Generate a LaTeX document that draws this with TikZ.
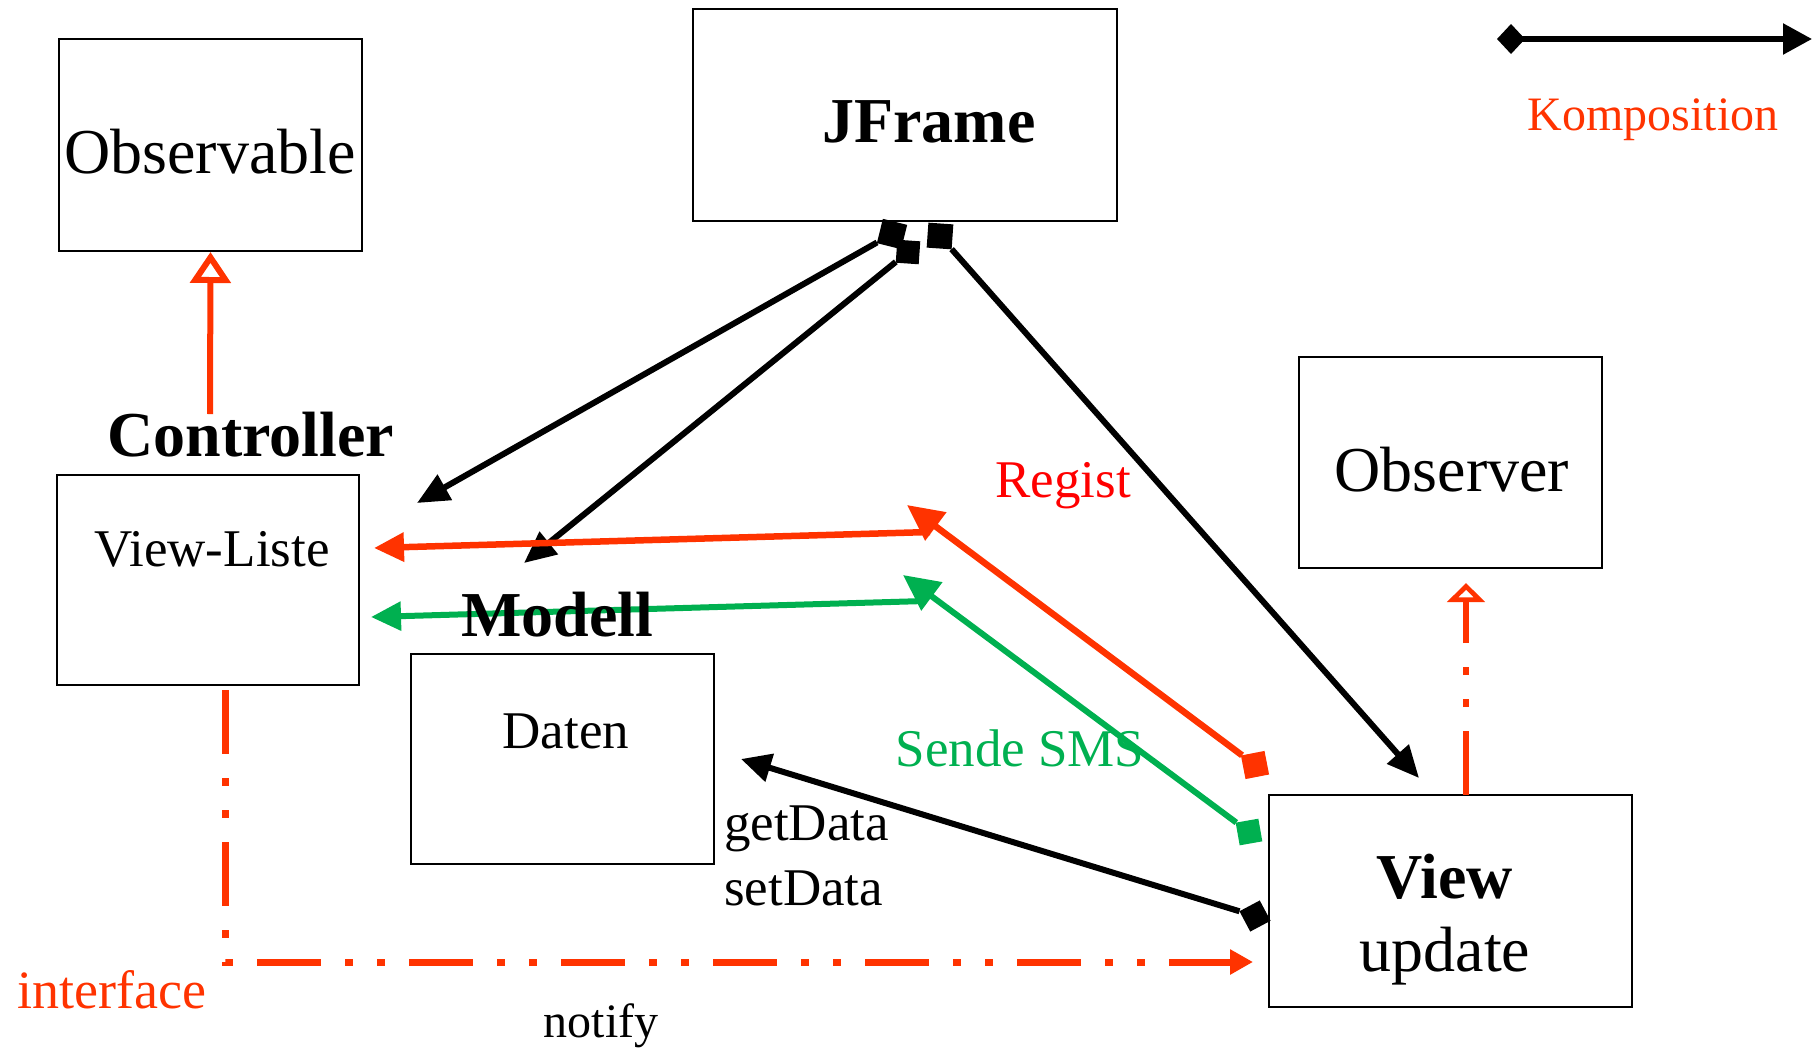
\documentclass[tikz,border=0pt]{standalone}
\usepackage{fontspec}
\setmainfont{Liberation Serif}
\usetikzlibrary{arrows.meta}
\definecolor{ured}{RGB}{255,51,0}
\definecolor{rred}{RGB}{255,0,0}
\definecolor{ugreen}{RGB}{0,176,80}
\begin{document}
\begin{tikzpicture}[x=1pt,y=-1pt,
  box/.style={draw=black, line width=2pt, inner sep=0pt},
  txt/.style={inner sep=0pt, anchor=base},
  big/.style={font=\fontsize{64}{70}\selectfont},
  bigb/.style={font=\fontsize{64}{70}\selectfont\bfseries},
  mid/.style={font=\fontsize{53}{60}\selectfont},
  small/.style={font=\fontsize{48}{54}\selectfont},
  blk/.style={draw=black, line width=6pt},
  sqnode/.style={inner sep=0pt, minimum size=24pt, outer sep=0pt},
  dashdot/.style={dash pattern=on 64pt off 24pt on 8pt off 24pt on 8pt off 24pt}
]
\useasboundingbox (0,0) rectangle (1812,1047);

% boxes
\node[box, minimum width=303pt, minimum height=212pt] (obs) at (210.5,145) {};
\node[box, minimum width=424pt, minimum height=212pt] (jf) at (905,115) {};
\node[box, minimum width=302pt, minimum height=210pt] (ctl) at (208,580) {};
\node[box, minimum width=303pt, minimum height=210pt] (mod) at (562.5,759) {};
\node[box, minimum width=303pt, minimum height=211pt] (obv) at (1450.5,462.5) {};
\node[box, minimum width=363pt, minimum height=212pt] (view) at (1450.5,901) {};

% square ends of the composition/message connectors
\node[sqnode, fill=black, minimum size=25pt, rotate=-14] (sq1) at (892,234) {};
\node[sqnode, fill=black, minimum size=23pt, rotate=-4] (sq2) at (908,252) {};
\node[sqnode, fill=black, minimum size=25pt, rotate=-4] (sq3) at (940,236) {};
\node[sqnode, fill=ured, rotate=11] (sqr) at (1255,765) {};
\node[sqnode, fill=ugreen, minimum size=23pt, rotate=10] (sqg) at (1249,832) {};
\node[sqnode, fill=black, minimum size=23pt, rotate=28] (sqd) at (1255,916) {};

% connector end points
\coordinate (c1) at (417,503);
\coordinate (m1) at (524,563);
\coordinate (v1) at (1419,778);
\coordinate (rt) at (907,505);
\coordinate (rh) at (930,532);
\coordinate (vl1) at (374,548);
\coordinate (gt) at (903,575);
\coordinate (gh) at (925,601);
\coordinate (vl2) at (371,617);
\coordinate (dt) at (741,759);
\coordinate (ifs) at (225,690);
\coordinate (ifc) at (225,962);
\coordinate (ift) at (1253,962);
\coordinate (vtop) at (1466,795);
\coordinate (obt) at (1466,583);
\coordinate (ctop) at (210,414);
\coordinate (lg1) at (1497,39);
\coordinate (lg2) at (1812,39);

% black composition connectors
\draw[blk, -{Triangle[length=32pt,width=28pt]}] (sq1) -- (c1);
\draw[blk, -{Triangle[length=32pt,width=28pt]}] (sq2) -- (m1);
\draw[blk, -{Triangle[length=32pt,width=28pt]}] (sq3) -- (v1);
\draw[blk, -{Triangle[length=30pt,width=28pt]}] (sqd) -- (dt);

% red Regist
\draw[ured, line width=6.5pt, -{Triangle[length=36pt,width=34pt]}] (sqr) -- (rt);
\draw[ured, line width=6.5pt, -{Triangle[length=30pt,width=28pt]}] (rh) -- (vl1);
% green Sende SMS
\draw[ugreen, line width=6pt, -{Triangle[length=36pt,width=34pt]}] (sqg) -- (gt);
\draw[ugreen, line width=6pt, -{Triangle[length=30pt,width=28pt]}] (gh) -- (vl2);

% interface notify
\draw[ured, line width=7pt, dashdot, -{Triangle[length=23pt,width=24pt]}] (ifs) -- (ifc) -- (ift);
% realization Observer
\draw[ured, line width=6pt, dashdot, -{Triangle[open,length=19pt,width=37pt]}] (vtop) -- (obt);
% inheritance Observable
\draw[ured, line width=6pt, -{Triangle[open,length=31pt,width=40pt]}] (ctop) -- (obs.south);

% legend
\draw[black, line width=5.5pt, {Diamond[length=28pt,width=30pt]}-{Triangle[length=29pt,width=30pt]}] (lg1) -- (lg2);

% texts
\node[txt, big] (tobs) at (210,173) {Observable};
\node[txt, bigb] (tjf) at (929,142) {JFrame};
\node[txt, bigb] (tctl) at (251,456) {Controller};
\node[txt, mid] (tvl) at (212,566) {View-Liste};
\node[txt, bigb] (tmod) at (557,636) {Modell};
\node[txt, mid] (tdat) at (566,748) {Daten};
\node[txt, big] (tobv) at (1452,491) {Observer};
\node[txt, bigb] (tview) at (1445,898) {View};
\node[txt, big] (tupd) at (1445,971) {update};
\node[txt, mid, text=rred] (treg) at (1063,497) {Regist};
\node[txt, mid, text=ugreen] (tsms) at (1020,766) {Sende SMS};
\node[inner sep=0pt, anchor=base west, mid] (tget) at (724,840) {getData};
\node[inner sep=0pt, anchor=base west, mid] (tset) at (724,905) {setData};
\node[txt, font=\fontsize{54}{60}\selectfont, text=ured] (tif) at (112,1008) {interface};
\node[txt, small] (tnot) at (601,1037) {notify};
\node[txt, small, text=ured] (tkomp) at (1653,130) {Komposition};
\end{tikzpicture}
\end{document}
